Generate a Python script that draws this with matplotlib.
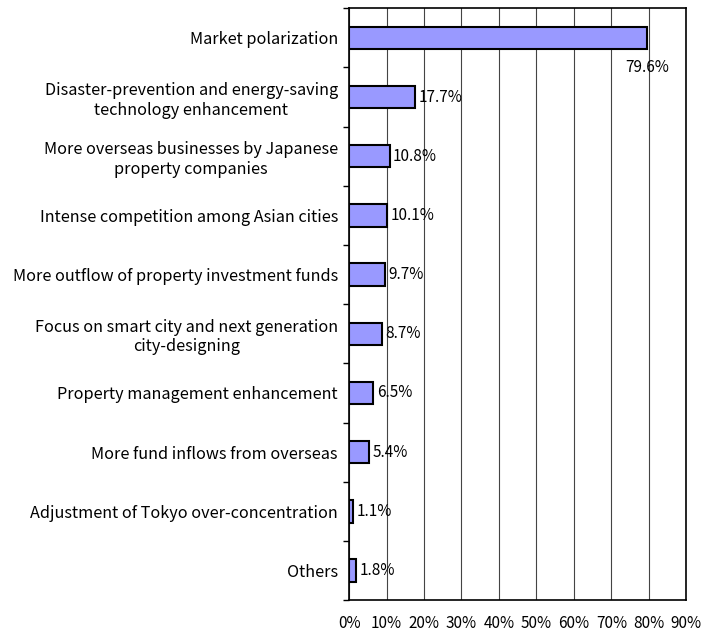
import matplotlib
matplotlib.use("Agg")
import matplotlib.pyplot as plt
import numpy as np

# --- Data ---
categories = [
    "Market polarization",
    "Disaster-prevention and energy-saving\ntechnology enhancement",
    "More overseas businesses by Japanese\nproperty companies",
    "Intense competition among Asian cities",
    "More outflow of property investment funds",
    "Focus on smart city and next generation\ncity-designing",
    "Property management enhancement",
    "More fund inflows from overseas",
    "Adjustment of Tokyo over-concentration",
    "Others",
]
values = [79.6, 17.7, 10.8, 10.1, 9.7, 8.7, 6.5, 5.4, 1.1, 1.8]
xticks = [0, 10, 20, 30, 40, 50, 60, 70, 80, 90]

plt.rcParams['font.family'] = ['Noto Sans CJK JP', 'DejaVu Sans']

fig = plt.figure(figsize=(7.01, 6.35), dpi=100)
ax = fig.add_axes([0.498, 0.055, 0.481, 0.932])

y = np.arange(len(categories))
bars = ax.barh(y, values, height=0.38, color='#9999FF', edgecolor='black',
               linewidth=1.5, zorder=3)

ax.set_xlim(0, 90)
ax.set_ylim(len(categories) - 0.5, -0.5)
ax.set_xticks(xticks)
ax.set_xticklabels([f"{t}%" for t in xticks], fontsize=11)
ax.tick_params(axis='x', length=0, pad=11)

ax.set_yticks(y)
ax.set_yticklabels(categories, fontsize=11.7, ha='right', multialignment='center',
                   linespacing=1.2)
ax.tick_params(axis='y', length=0, pad=8)
ax.set_yticks(np.arange(len(categories) + 1) - 0.5, minor=True)
ax.tick_params(axis='y', which='minor', length=4, width=1, direction='out')

ax.grid(axis='x', color='#444444', linewidth=0.8, zorder=0)
for s in ax.spines.values():
    s.set_linewidth(1.2)

# value labels
for i, (bar, v) in enumerate(zip(bars, values)):
    if i == 0:
        ax.text(v, i + 0.5, f"{v}%", ha='center', va='center', fontsize=11)
    else:
        ax.text(v + 0.9, i, f"{v}%", ha='left', va='center', fontsize=11)

plt.savefig("out.png", dpi=100)
